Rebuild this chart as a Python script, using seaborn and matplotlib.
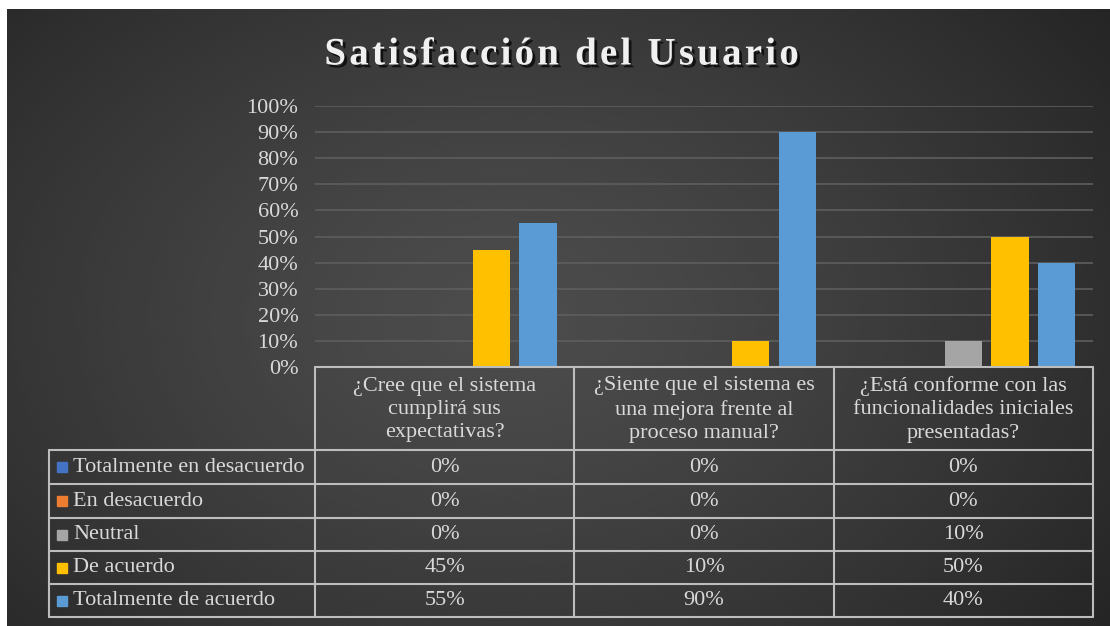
"""Satisfacción del Usuario: grouped bars with an Excel-style data table below"""

import numpy as np
import pandas as pd
import matplotlib
matplotlib.use("Agg")
import matplotlib.pyplot as plt
import matplotlib.patheffects as pe
import seaborn as sns

sns.set_theme(style="dark")
plt.rcParams['font.family'] = ['Liberation Serif', 'DejaVu Serif']

# data
preguntas = ["¿Cree que el sistema\ncumplirá sus\nexpectativas?",
             "¿Siente que el sistema es\nuna mejora frente al\nproceso manual?",
             "¿Está conforme con las\nfuncionalidades iniciales\npresentadas?"]
respuestas = ["Totalmente en desacuerdo", "En desacuerdo", "Neutral",
              "De acuerdo", "Totalmente de acuerdo"]
totalmente_desacuerdo = [0.00, 0.00, 0.00]
en_desacuerdo = [0.00, 0.00, 0.00]
neutral = [0.00, 0.00, 0.10]
de_acuerdo = [0.45, 0.10, 0.50]
totalmente_acuerdo = [0.55, 0.90, 0.40]
colores = ["#4472C4", "#ED7D31", "#A5A5A5", "#FFC000", "#5B9BD5"]

series = [totalmente_desacuerdo, en_desacuerdo, neutral, de_acuerdo, totalmente_acuerdo]
df = pd.DataFrame([(p, r, v) for r, vals in zip(respuestas, series)
                   for p, v in zip(preguntas, vals)],
                  columns=["pregunta", "respuesta", "valor"])

W, H = 1110, 626
fig = plt.figure(figsize=(W / 100, H / 100), dpi=100, facecolor="white")

# dark radial background of the chart area
bg = fig.add_axes([7 / W, 0, 1 - 7 / W, 1 - 9 / H], zorder=-5)
yy, xx = np.mgrid[0:1:300j, 0:1:600j]
r = np.sqrt(((xx - 0.45) / 0.8) ** 2 + ((yy - 0.5) / 1.0) ** 2)
shade = 0.30 - 0.19 * np.clip(r, 0, 1) ** 1.3
bg.imshow(shade, cmap="gray", vmin=0, vmax=1, aspect="auto",
          extent=[0, 1, 0, 1], interpolation="bicubic")
bg.set_axis_off()

# pixel helpers
x0, x1 = 315, 1093          # plot / table columns
y_top, y_axis = 106, 367    # 100% and 0% lines
ax = fig.add_axes([x0 / W, (H - y_axis) / H, (x1 - x0) / W, (y_axis - y_top) / H])
ax.patch.set_alpha(0)

sns.barplot(data=df, x="pregunta", y="valor", hue="respuesta", hue_order=respuestas,
            order=preguntas, palette=colores, width=0.9, gap=0.2, saturation=1,
            linewidth=0, legend=False, ax=ax)
ax.set_xlim(-0.5, len(preguntas) - 0.5)
ax.set_ylim(0, 1)
ticks = np.arange(0, 1.01, 0.1)
ax.set_yticks(ticks)
ax.set_yticklabels([f"{int(round(t * 100))}%" for t in ticks], color="#d9d9d9", fontsize=16)
ax.tick_params(axis="y", length=0, pad=12)
ax.set_xticks([])
ax.set_xlabel("")
ax.set_ylabel("")
ax.grid(axis="y", color="#5e5e5e", lw=1.2)
ax.set_axisbelow(True)
for s in ax.spines.values():
    s.set_visible(False)
for p in ax.patches:
    p.set_edgecolor("none")

# title, letter-spaced like the original
titulo = "Satisfacción del Usuario"
fig.text(562 / W, (H - 55) / H, "\u200a".join(titulo), ha="center", va="center",
         fontsize=28, fontweight="bold", color="#f0f0f0",
         path_effects=[pe.withSimplePatchShadow(offset=(2, -2), shadow_rgbFace="black", alpha=0.7)])

# data table in pixel coordinates
tb = fig.add_axes([0, 0, 1, 1], zorder=3)
tb.set_xlim(0, W)
tb.set_ylim(H, 0)
tb.set_axis_off()
tb.patch.set_alpha(0)

line_c = "#bdbdbd"
txt_c = "#d9d9d9"
leg_x0 = 49
col_w = (x1 - x0) / len(preguntas)
col_edges = [x0 + i * col_w for i in range(len(preguntas) + 1)]
row_edges = [367, 450, 484, 518, 551, 584, 617]

tb.plot([x0, x1], [row_edges[0]] * 2, color=line_c, lw=1.5)
for y in row_edges[1:]:
    tb.plot([leg_x0, x1], [y, y], color=line_c, lw=1.5)
for x in col_edges:
    tb.plot([x, x], [row_edges[0], row_edges[-1]], color=line_c, lw=1.5)
tb.plot([leg_x0, leg_x0], [row_edges[1], row_edges[-1]], color=line_c, lw=1.5)

for i, p in enumerate(preguntas):
    tb.text((col_edges[i] + col_edges[i + 1]) / 2, (row_edges[0] + row_edges[1]) / 2 + 1, p,
            ha="center", va="center", fontsize=16, color=txt_c, linespacing=1.3)

for j, (resp, vals, c) in enumerate(zip(respuestas, series, colores)):
    yc = (row_edges[j + 1] + row_edges[j + 2]) / 2
    tb.add_patch(plt.Rectangle((57, yc - 5), 10, 10, color=c))
    tb.text(73, yc, resp, ha="left", va="center", fontsize=16, color=txt_c)
    for i, v in enumerate(vals):
        tb.text((col_edges[i] + col_edges[i + 1]) / 2, yc, f"{int(round(v * 100))}%",
                ha="center", va="center", fontsize=16, color=txt_c)

fig.savefig("out.png", dpi=100, facecolor="white")
